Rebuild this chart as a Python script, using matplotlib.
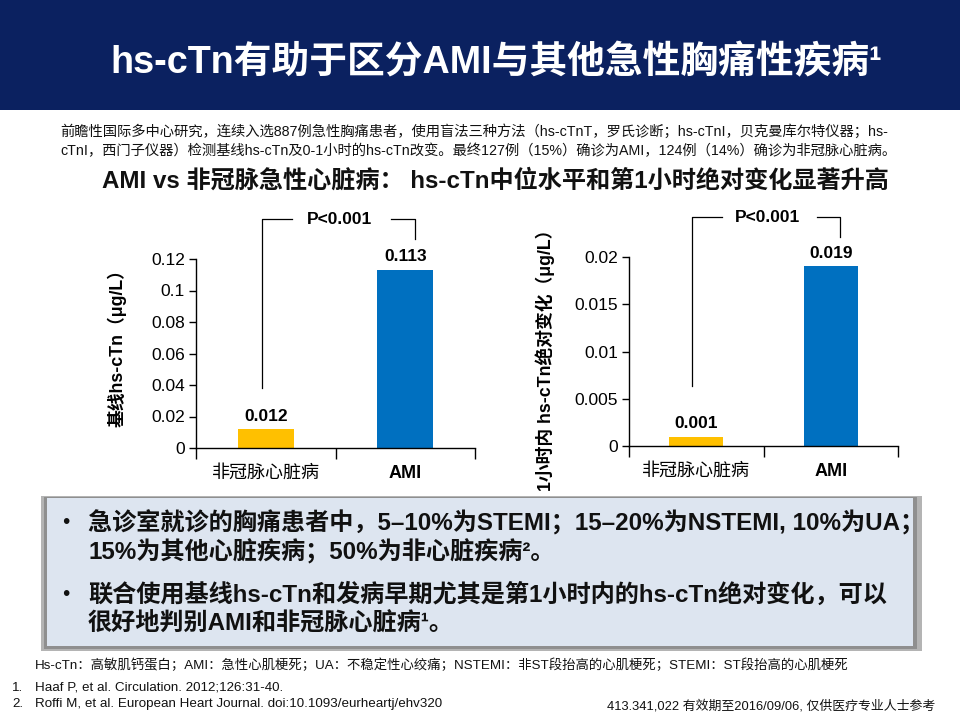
import matplotlib
matplotlib.use('Agg')
import matplotlib.pyplot as plt
from matplotlib.patches import Rectangle

plt.rcParams['font.family'] = ['Liberation Sans', 'Noto Sans CJK SC']
plt.rcParams['axes.unicode_minus'] = False

# Data
categories = ['非冠脉心脏病', 'AMI']
baseline_vals = [0.012, 0.113]
delta_vals = [0.001, 0.019]
baseline_ticks = [0, 0.02, 0.04, 0.06, 0.08, 0.1, 0.12]
delta_ticks = [0, 0.005, 0.01, 0.015, 0.02]
p_text = 'P<0.001'
baseline_ylabel = '基线hs-cTn（μg/L）'
delta_ylabel = '1小时内 hs-cTn绝对变化（μg/L）'

title = 'hs-cTn有助于区分AMI与其他急性胸痛性疾病¹'
intro = ['前瞻性国际多中心研究，连续入选887例急性胸痛患者，使用盲法三种方法（hs-cTnT，罗氏诊断；hs-cTnI，贝克曼库尔特仪器；hs-',
         'cTnI，西门子仪器）检测基线hs-cTn及0-1小时的hs-cTn改变。最终127例（15%）确诊为AMI，124例（14%）确诊为非冠脉心脏病。']
subtitle = 'AMI vs 非冠脉急性心脏病： hs-cTn中位水平和第1小时绝对变化显著升高'
bullets = [['急诊室就诊的胸痛患者中，5–10%为STEMI；15–20%为NSTEMI, 10%为UA；',
            '15%为其他心脏疾病；50%为非心脏疾病²。'],
           ['联合使用基线hs-cTn和发病早期尤其是第1小时内的hs-cTn绝对变化，可以',
            '很好地判别AMI和非冠脉心脏病¹。']]
abbrev = 'Hs-cTn：高敏肌钙蛋白；AMI：急性心肌梗死；UA：不稳定性心绞痛；NSTEMI：非ST段抬高的心肌梗死；STEMI：ST段抬高的心肌梗死'
refs = ['Haaf P, et al. Circulation. 2012;126:31-40.',
        'Roffi M, et al. European Heart Journal. doi:10.1093/eurheartj/ehv320']
footer = '413.341,022 有效期至2016/09/06, 仅供医疗专业人士参考'

bar_colors = ['#FFC000', '#0070C0']
W, H = 960, 720

fig = plt.figure(figsize=(9.6, 7.2), dpi=100)

def px(x, y):
    # pixel position (from top-left) -> figure fraction
    return x / W, 1 - y / H

# header band
fig.patches.append(Rectangle((0, 1 - 110 / H), 1, 110 / H, transform=fig.transFigure,
                             facecolor='#0b2160', edgecolor='none', zorder=0))
fig.text(*px(496, 63), title, color='white', fontsize=27.2, fontweight='bold',
         ha='center', va='center')

for i, line in enumerate(intro):
    fig.text(*px(60, 131 + i * 20), line, fontsize=10.3, ha='left', va='center', color='#111111')

fig.text(*px(495, 181), subtitle, fontsize=17.4, fontweight='bold', ha='center', va='center',
         color='#111111')


def bar_panel(rect, values, ticks):
    ax = fig.add_axes(rect)
    x = range(len(categories))
    ax.bar(x, values, width=0.4, color=bar_colors, zorder=2)
    ymax = ticks[-1]
    ax.set_xlim(-0.5, len(categories) - 0.5)
    ax.set_ylim(0, ymax)
    ax.set_yticks(ticks)
    ax.set_yticklabels([f'{t:g}' for t in ticks], fontsize=12.5)
    ax.tick_params(axis='y', length=5, width=1, pad=3)
    ax.set_xticks(list(x))
    ax.set_xticklabels(categories, fontsize=13)
    ax.get_xticklabels()[0].set_fontweight('medium')
    ax.get_xticklabels()[1].set_fontweight('bold')
    ax.set_xticks([-0.5, 0.5, 1.5], minor=True)
    ax.tick_params(axis='x', which='major', length=0, pad=12)
    ax.tick_params(axis='x', which='minor', length=8, width=1)
    for s in ['top', 'right']:
        ax.spines[s].set_visible(False)
    for s in ['left', 'bottom']:
        ax.spines[s].set_linewidth(1)
    for xi, v in zip(x, values):
        ax.annotate(f'{v:.3f}', (xi, v), xytext=(0, 4), textcoords='offset points',
                    ha='center', va='bottom', fontsize=12.5, fontweight='bold')
    # significance bracket
    top = ymax * 1.21
    kw = dict(color='black', lw=0.9, clip_on=False)
    ax.plot([-0.03, -0.03, 0.19], [ymax * 0.315, top, top], **kw)
    ax.plot([0.9, 1.07, 1.07], [top, top, ymax * 1.105], **kw)
    ax.text(0.53, top, p_text, ha='center', va='center', fontsize=12.5, fontweight='bold')
    return ax


bar_panel([196 / W, 1 - 448 / H, 279 / W, 189 / H], baseline_vals, baseline_ticks)
bar_panel([629 / W, 1 - 446 / H, 269 / W, 189 / H], delta_vals, delta_ticks)

fig.text(*px(117, 344), baseline_ylabel, rotation=90, fontsize=12.8, fontweight='bold',
         ha='center', va='center')
fig.text(*px(545, 356), delta_ylabel, rotation=90, fontsize=12.8, fontweight='bold',
         ha='center', va='center')

# key-message box with soft grey shadow
fig.patches.append(Rectangle((41 / W, 1 - 651 / H), 881 / W, 155 / H, transform=fig.transFigure,
                             facecolor='#b4b4b4', edgecolor='none', zorder=0))
fig.patches.append(Rectangle((44 / W, 1 - 649 / H), 873 / W, 152 / H, transform=fig.transFigure,
                             facecolor='#8f8f8f', edgecolor='none', zorder=0))
fig.patches.append(Rectangle((47 / W, 1 - 646 / H), 866 / W, 148 / H, transform=fig.transFigure,
                             facecolor='#dde5f0', edgecolor='none', zorder=0))
line_y = [[523, 552], [595, 623]]
for item, ys in zip(bullets, line_y):
    fig.text(*px(62, ys[0]), '•', fontsize=15, ha='left', va='center', color='#111111')
    for text, y in zip(item, ys):
        fig.text(*px(88, y), text, fontsize=17.4, fontweight='bold', ha='left', va='center',
                 color='#111111')

fig.text(*px(35, 665), abbrev, fontsize=9.6, ha='left', va='center', color='#111111')
for i, r in enumerate(refs):
    fig.text(*px(12, 688 + i * 16), f'{i + 1}.', fontsize=9.6, ha='left', va='center', color='#111111')
    fig.text(*px(35, 688 + i * 16), r, fontsize=9.6, ha='left', va='center', color='#111111')
fig.text(*px(935, 706), footer, fontsize=9.3, ha='right', va='center', color='#111111')

fig.savefig('out.png', dpi=100)
